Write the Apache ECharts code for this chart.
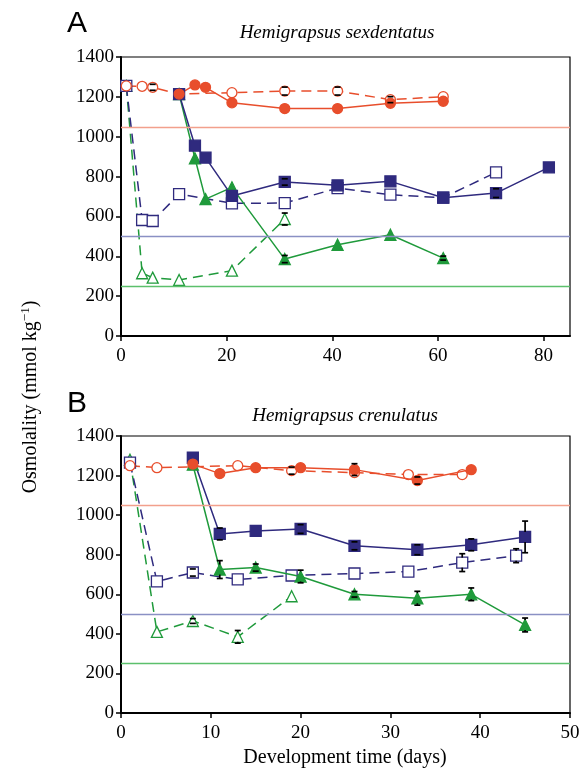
<!DOCTYPE html>
<html>
<head>
<meta charset="utf-8">
<script src="https://cdn.jsdelivr.net/npm/echarts@6/dist/echarts.min.js"></script>
<style>
  html, body { margin: 0; padding: 0; background: #fff; }
  #main { width: 586px; height: 775px; }
</style>
</head>
<body>
<div id="main"></div>
<script>
// reference salinity levels (horizontal lines), same in both panels
var refLevels = [1050, 500, 250];

// panel A - Hemigrapsus sexdentatus, [day, osmolality]
var aRedSolid = [[11, 1214], [14, 1260], [16, 1248], [21, 1170], [31, 1141], [41, 1141], [51, 1168], [61, 1178]];
var aRedOpen = [[1, 1255], [4, 1253], [6, 1248], [11, 1214], [21, 1221], [31, 1229], [41, 1229], [51, 1186], [61, 1201]];
var aBlueSolid = [[11, 1214], [14, 955], [16, 895], [21, 703], [31, 773], [41, 756], [51, 776], [61, 694], [71, 717], [81, 846]];
var aBlueOpen = [[1, 1255], [4, 582], [6, 577], [11, 712], [21, 666], [31, 667], [41, 742], [51, 709], [61, 694], [71, 821]];
var aGreenSolid = [[11, 1214], [14, 892], [16, 687], [21, 746], [31, 386], [41, 458], [51, 508], [61, 391]];
var aGreenOpen = [[1, 1255], [4, 315], [6, 293], [11, 281], [21, 328], [31, 587]];
// error bars [day, value, sem]
var aErr = [[6, 1248, 15], [31, 1229, 20], [41, 1229, 20], [51, 1186, 15], [31, 587, 30], [31, 773, 16], [71, 717, 22], [61, 391, 10], [31, 386, 18]];

// panel B - Hemigrapsus crenulatus
var bRedSolid = [[8, 1258], [11, 1210], [15, 1240], [20, 1240], [26, 1230], [33, 1175], [39, 1230]];
var bRedOpen = [[1, 1250], [4, 1240], [13, 1250], [19, 1225], [26, 1215], [32, 1205], [38, 1205]];
var bBlueSolid = [[8, 1290], [11, 905], [15, 920], [20, 930], [26, 845], [33, 825], [39, 850], [45, 890]];
var bBlueOpen = [[1, 1265], [4, 665], [8, 710], [13, 675], [19, 695], [26, 705], [32, 715], [38, 760], [44, 795]];
var bGreenSolid = [[8, 1255], [11, 725], [15, 735], [20, 690], [26, 600], [33, 580], [39, 600], [45, 445]];
var bGreenOpen = [[1, 1280], [4, 410], [8, 465], [13, 385], [19, 590]];
var bErr = [[19, 1225, 18], [26, 1230, 30], [33, 1175, 18], [11, 905, 30], [20, 930, 22], [26, 845, 20], [33, 825, 25], [39, 850, 30], [45, 890, 80],
            [8, 710, 18], [38, 760, 45], [44, 795, 35], [11, 725, 45], [15, 735, 18], [20, 690, 32], [26, 600, 14], [33, 580, 35], [39, 600, 32], [45, 445, 35],
            [13, 385, 32], [8, 465, 12]];

var xTicksA = [0, 20, 40, 60, 80];
var xTicksB = [0, 10, 20, 30, 40, 50];

var RED = '#e84e2c', BLUE = '#2f2a7e', GREEN = '#1f9a3b';
var REF_COLORS = ['#f2a08c', '#8a90c4', '#5cc06c'];
var SERIF = 'Liberation Serif';

var myChart = echarts.init(document.getElementById('main'));

function line(data, color, symbol, filled, dashed, idx) {
    return {
        type: 'line',
        xAxisIndex: idx, yAxisIndex: idx,
        data: data,
        symbol: symbol,
        symbolSize: symbol === 'circle' ? 10 : 11,
        showAllSymbol: true,
        itemStyle: { color: filled ? color : '#fff', borderColor: color, borderWidth: 1.3 },
        lineStyle: { color: color, width: 1.5, type: dashed ? [10, 6] : 'solid' },
        z: filled ? 4 : 3
    };
}

// error bars drawn above the markers, stem kept outside the marker
function errBars(data, idx) {
    return {
        type: 'custom',
        xAxisIndex: idx, yAxisIndex: idx,
        data: data.map(function (d) { return [d[0], d[1], d[1] - d[2], d[1] + d[2]]; }),
        renderItem: function (params, api) {
            var c = api.coord([api.value(0), api.value(1)]);
            var lo = api.coord([api.value(0), api.value(2)]);
            var hi = api.coord([api.value(0), api.value(3)]);
            var st = { stroke: '#000', lineWidth: 1.7 };
            var kids = [
                { type: 'line', shape: { x1: lo[0] - 3, y1: lo[1], x2: lo[0] + 3, y2: lo[1] }, style: st },
                { type: 'line', shape: { x1: hi[0] - 3, y1: hi[1], x2: hi[0] + 3, y2: hi[1] }, style: st }
            ];
            if (lo[1] - c[1] > 5) kids.push({ type: 'line', shape: { x1: c[0], y1: c[1] + 5, x2: lo[0], y2: lo[1] }, style: st });
            if (c[1] - hi[1] > 5) kids.push({ type: 'line', shape: { x1: c[0], y1: c[1] - 5, x2: hi[0], y2: hi[1] }, style: st });
            return { type: 'group', children: kids };
        },
        z: 6
    };
}

function refLines(idx) {
    return refLevels.map(function (v, i) {
        return {
            type: 'line', xAxisIndex: idx, yAxisIndex: idx, data: [],
            markLine: {
                silent: true, symbol: 'none', label: { show: false },
                lineStyle: { color: REF_COLORS[i], width: 1.3, type: 'solid' },
                data: [{ yAxis: v }]
            },
            z: 1
        };
    });
}

function xAxis(idx, max, ticks) {
    return {
        gridIndex: idx, type: 'value', min: 0, max: max,
        axisLine: { show: true, onZero: false, lineStyle: { color: '#000', width: 2 } },
        axisTick: { show: true, length: 5, lineStyle: { color: '#000', width: 1.5 }, customValues: ticks },
        axisLabel: { color: '#000', fontFamily: SERIF, fontSize: 19, margin: 11, customValues: ticks },
        splitLine: { show: false }
    };
}

function yAxis(idx) {
    return {
        gridIndex: idx, type: 'value', min: 0, max: 1400, interval: 200,
        axisLine: { show: true, onZero: false, lineStyle: { color: '#000', width: 2 } },
        axisTick: { show: true, length: 5, lineStyle: { color: '#000', width: 1.5 } },
        axisLabel: { color: '#000', fontFamily: SERIF, fontSize: 19, margin: 7, formatter: function (v) { return String(v); } },
        splitLine: { show: false }
    };
}

var series = [].concat(
    refLines(0), refLines(1),
    [
        errBars(aErr, 0),
        line(aGreenOpen, GREEN, 'triangle', false, true, 0),
        line(aBlueOpen, BLUE, 'rect', false, true, 0),
        line(aRedOpen, RED, 'circle', false, true, 0),
        line(aGreenSolid, GREEN, 'triangle', true, false, 0),
        line(aBlueSolid, BLUE, 'rect', true, false, 0),
        line(aRedSolid, RED, 'circle', true, false, 0),
        errBars(bErr, 1),
        line(bGreenOpen, GREEN, 'triangle', false, true, 1),
        line(bBlueOpen, BLUE, 'rect', false, true, 1),
        line(bRedOpen, RED, 'circle', false, true, 1),
        line(bGreenSolid, GREEN, 'triangle', true, false, 1),
        line(bBlueSolid, BLUE, 'rect', true, false, 1),
        line(bRedSolid, RED, 'circle', true, false, 1)
    ]
);

myChart.setOption({
    animation: false,
    grid: [
        { left: 121, top: 57, width: 449, height: 279, show: true, borderColor: '#000', borderWidth: 1.2, containLabel: false },
        { left: 121, top: 436, width: 449, height: 277, show: true, borderColor: '#000', borderWidth: 1.2, containLabel: false }
    ],
    xAxis: [xAxis(0, 85, xTicksA), xAxis(1, 50, xTicksB)],
    yAxis: [yAxis(0), yAxis(1)],
    series: series,
    graphic: [
        { type: 'text', left: 67, top: 9, style: { text: 'A', font: '30px "Liberation Sans"', fill: '#000' } },
        { type: 'text', left: 67, top: 389, style: { text: 'B', font: '30px "Liberation Sans"', fill: '#000' } },
        { type: 'text', x: 337, y: 33, style: { text: 'Hemigrapsus sexdentatus', font: 'italic 19px "Liberation Serif"', fill: '#000', align: 'center', verticalAlign: 'middle' } },
        { type: 'text', x: 345, y: 416, style: { text: 'Hemigrapsus crenulatus', font: 'italic 19px "Liberation Serif"', fill: '#000', align: 'center', verticalAlign: 'middle' } },
        { type: 'text', x: 345, y: 758, style: { text: 'Development time (days)', font: '20px "Liberation Serif"', fill: '#000', align: 'center', verticalAlign: 'middle' } },
        {
            type: 'text', x: 30, y: 397, rotation: Math.PI / 2,
            style: {
                text: '{a|Osmolality (mmol kg}{s|−1}{a|)}',
                align: 'center', verticalAlign: 'middle', fill: '#000',
                rich: {
                    a: { fontFamily: SERIF, fontSize: 20, lineHeight: 22, verticalAlign: 'bottom' },
                    s: { fontFamily: SERIF, fontSize: 13, lineHeight: 22, verticalAlign: 'top' }
                }
            }
        }
    ]
});
</script>
</body>
</html>
